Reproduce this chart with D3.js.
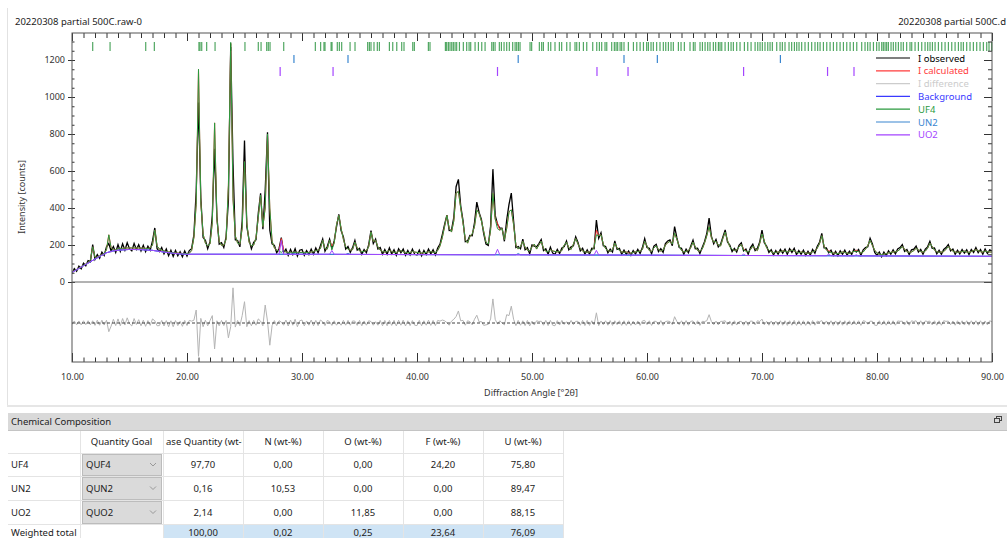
<!DOCTYPE html>
<html>
<head>
<meta charset="utf-8">
<script src="https://cdn.jsdelivr.net/npm/d3@7"></script>
<style>
body { margin: 0; background: #fff; }
svg { display: block; font-family: "Segoe UI", "Noto Sans", sans-serif; }
</style>
</head>
<body>
<svg id="chart-svg" width="1007" height="538"></svg>
<script>
// ---- pattern data, 10 to 90 deg 2theta, step 0.2 ----
const angleStart = 10, angleStep = 0.2;

const calcCounts = [
  54, 61, 68, 75, 82, 90, 97, 104, 120, 190,
  135, 133, 140, 147, 155, 175, 255, 185, 172, 174,
  180, 181, 182, 183, 184, 184, 184, 184, 184, 184,
  183, 183, 182, 181, 185, 200, 280, 195, 178, 172,
  168, 165, 162, 160, 158, 157, 156, 155, 154, 154,
  154, 156, 170, 240, 420, 1150, 430, 260, 210, 195,
  205, 320, 860, 340, 220, 198, 200, 230, 520, 1290,
  450, 250, 210, 205, 290, 650, 320, 215, 195, 200,
  240, 350, 470, 300, 400, 800, 400, 220, 185, 172,
  168, 235, 172, 162, 160, 160, 160, 160, 160, 160,
  160, 160, 159, 160, 162, 165, 170, 172, 180, 225,
  180, 178, 225, 195, 210, 310, 360, 290, 230, 190,
  178, 172, 175, 215, 185, 168, 165, 165, 170, 190,
  270, 220, 225, 190, 172, 165, 162, 165, 170, 165,
  160, 160, 165, 170, 163, 160, 158, 160, 165, 162,
  160, 158, 157, 158, 160, 163, 165, 160, 160, 170,
  195, 240, 300, 360, 290, 270, 330, 480, 490, 400,
  320, 230, 210, 245, 260, 300, 390, 370, 330, 275,
  215, 205, 280, 480, 340, 318, 280, 290, 230, 290,
  380, 390, 310, 200, 178, 192, 220, 188, 172, 168,
  190, 205, 178, 200, 220, 182, 166, 164, 174, 168,
  165, 163, 165, 170, 200, 215, 185, 176, 205, 235,
  205, 180, 168, 164, 160, 163, 170, 190, 280, 250,
  255, 205, 180, 170, 165, 175, 210, 185, 170, 163,
  160, 163, 156, 157, 160, 163, 165, 167, 175, 220,
  195, 170, 165, 185, 195, 175, 167, 173, 200, 212,
  220, 205, 265, 230, 195, 170, 163, 165, 170, 185,
  215, 190, 170, 167, 177, 210, 250, 300, 240, 215,
  220, 200, 195, 235, 270, 225, 190, 177, 170, 173,
  190, 203, 180, 167, 163, 175, 195, 180, 170, 208,
  260, 222, 185, 172, 163, 158, 160, 162, 164, 168,
  166, 163, 168, 172, 168, 161, 158, 162, 160, 157,
  155, 158, 163, 168, 182, 207, 250, 193, 173, 170,
  160, 157, 155, 154, 157, 162, 160, 157, 154, 160,
  166, 172, 164, 157, 162, 177, 197, 226, 197, 172,
  157, 150, 147, 150, 154, 157, 160, 162, 164, 167,
  177, 192, 177, 164, 160, 162, 170, 182, 174, 164,
  162, 167, 182, 210, 192, 172, 164, 160, 162, 164,
  177, 192, 177, 167, 162, 160, 162, 164, 167, 162,
  160, 164, 170, 174, 170, 164, 162, 167, 164, 162,
  162
];

const obsCounts = [
  46, 72, 58, 86, 72, 102, 88, 116, 110, 202,
  122, 148, 128, 162, 144, 190, 208, 168, 192, 160,
  202, 166, 206, 172, 212, 180, 168, 208, 176, 202,
  168, 198, 164, 194, 172, 222, 292, 180, 164, 186,
  152, 178, 142, 172, 138, 170, 142, 164, 136, 168,
  140, 170, 180, 255, 490, 970, 455, 240, 225, 180,
  218, 360, 720, 352, 205, 212, 186, 244, 440, 1270,
  640, 228, 224, 190, 330, 765, 300, 228, 180, 214,
  228, 372, 480, 285, 497, 810, 280, 206, 198, 158,
  180, 240, 160, 178, 144, 176, 148, 180, 140, 172,
  176, 144, 170, 148, 178, 150, 184, 158, 196, 232,
  166, 192, 232, 182, 222, 298, 366, 278, 244, 178,
  192, 160, 186, 225, 172, 182, 150, 176, 158, 202,
  278, 208, 232, 178, 186, 150, 176, 150, 184, 152,
  174, 144, 180, 158, 178, 144, 170, 146, 178, 150,
  146, 172, 142, 170, 148, 178, 152, 174, 146, 184,
  205, 256, 312, 362, 278, 280, 350, 515, 555, 412,
  334, 218, 222, 252, 250, 320, 432, 376, 338, 262,
  205, 198, 302, 610, 360, 312, 292, 290, 220, 335,
  420, 481, 330, 186, 192, 180, 232, 174, 186, 152,
  200, 194, 190, 208, 230, 170, 180, 150, 188, 156,
  150, 176, 154, 184, 192, 222, 174, 190, 196, 244,
  214, 168, 182, 150, 174, 150, 182, 180, 335, 236,
  266, 196, 192, 158, 178, 162, 222, 176, 182, 150,
  172, 150, 168, 144, 170, 152, 176, 154, 186, 234,
  186, 182, 152, 194, 204, 164, 180, 160, 208, 222,
  228, 196, 299, 238, 186, 182, 150, 178, 158, 194,
  226, 180, 182, 154, 186, 218, 262, 345, 248, 206,
  230, 190, 204, 244, 282, 216, 200, 164, 182, 162,
  198, 212, 168, 178, 150, 186, 204, 170, 182, 216,
  281, 212, 194, 160, 174, 146, 170, 150, 176, 156,
  178, 150, 180, 160, 182, 148, 170, 150, 172, 144,
  166, 146, 176, 156, 192, 214, 263, 184, 184, 158,
  172, 144, 166, 142, 169, 150, 172, 145, 166, 149,
  178, 162, 176, 144, 174, 186, 190, 236, 206, 160,
  144, 162, 136, 162, 142, 169, 150, 174, 152, 178,
  186, 202, 166, 176, 148, 174, 178, 194, 162, 176,
  150, 178, 190, 220, 182, 184, 152, 172, 150, 176,
  186, 202, 168, 178, 150, 172, 152, 176, 156, 174,
  148, 176, 160, 186, 158, 176, 150, 178, 154, 174,
  168
];

// UO2 share of the calculated pattern at its peaks
const uo2Share = [[28.2, 75], [32.6, 20], [47.0, 30], [55.6, 25], [58.4, 6], [68.4, 7], [75.8, 8], [78.2, 6]];

const backgroundCurve = [[10, 52], [11, 88], [12, 124], [13, 158], [13.5, 167], [14, 172], [15, 176], [16, 175], [17, 171],
  [18, 162], [19, 154], [20, 150], [30, 150], [40, 148], [50, 147], [60, 145], [70, 143], [80, 141], [90, 139]];

const uo2Curve = [[10, 52], [11, 88], [12, 124], [13, 158], [13.5, 167], [14, 172], [15, 176], [16, 175], [17, 171],
  [18, 162], [19, 154], [20, 150], [28, 150], [28.2, 225], [28.4, 150], [32.4, 150], [32.6, 170], [32.8, 150],
  [40, 148], [46.8, 147], [47, 177], [47.2, 147], [50, 147], [55.4, 146], [55.6, 171], [55.8, 146], [58.2, 145],
  [58.4, 151], [58.6, 145], [60, 145], [68.2, 143], [68.4, 150], [68.6, 143], [70, 143], [75.6, 142], [75.8, 150],
  [76, 142], [78, 141], [78.2, 147], [78.4, 141], [80, 141], [90, 139]];

const un2Curve = [[10, 52], [11, 88], [12, 124], [13, 158], [13.5, 167], [14, 172], [15, 176], [16, 175], [17, 171],
  [18, 162], [19, 154], [20, 150], [29.1, 150], [29.3, 156], [29.5, 150], [33.8, 149], [34, 155], [34.2, 149],
  [40, 148], [48.6, 147], [48.8, 154], [49, 147], [50, 147], [57.8, 145], [58, 150], [58.2, 145], [60, 145],
  [70, 143], [80, 141], [90, 139]];

// reflection markers (deg 2theta)
const uf4Markers = [11.80, 13.31, 16.41, 17.16, 21.04, 21.13, 21.28, 21.71, 22.44, 23.80, 25.04, 26.20, 26.44, 26.93,
  27.07, 27.22, 28.41, 31.16, 31.62, 31.91, 32.00, 32.53, 32.61, 33.07, 33.25, 33.45, 34.18, 34.61, 35.71, 35.86,
  36.00, 36.26, 36.55, 36.73, 37.60, 37.89, 38.24, 38.67, 38.87, 39.63, 39.77, 40.99, 41.13, 42.47, 42.58, 42.73,
  42.87, 43.02, 43.16, 43.31, 43.45, 43.69, 44.03, 44.32, 44.53, 44.67, 45.05, 45.34, 45.63, 45.92, 46.50, 46.64,
  46.79, 47.16, 47.34, 47.57, 47.80, 48.03, 48.32, 48.53, 48.67, 48.82, 48.96, 49.83, 49.97, 50.64, 50.84, 50.99,
  51.42, 51.63, 52.00, 52.38, 52.58, 53.02, 53.31, 53.74, 53.89, 54.12, 54.47, 54.76, 55.28, 55.63, 55.86, 56.06,
  56.35, 56.50, 56.93, 57.16, 57.31, 57.45, 57.66, 57.80, 58.00, 58.38, 58.82, 59.11, 59.40, 59.69, 59.97,
  60.12, 60.35, 60.55, 60.84, 61.13, 61.42, 61.63, 61.86, 62.09, 62.29, 62.73, 62.96, 63.25, 63.74, 64.03, 64.18,
  64.61, 64.82, 65.05, 65.28, 65.48, 65.77, 65.97, 66.21, 66.35, 66.50, 66.79, 67.08, 67.31, 67.51, 67.80, 68.09,
  68.47, 68.76, 69.05, 69.40, 69.63, 69.83, 70.03, 70.26, 70.50, 70.70, 70.90, 71.28, 71.57, 71.77, 72.00, 72.35,
  72.58, 72.82, 73.02, 73.22, 73.45, 73.74, 74.03, 74.32, 74.61, 74.84, 75.05, 75.34, 75.63, 75.92, 76.21, 76.50,
  76.79, 77.08, 77.37, 77.66, 77.95, 78.24, 78.67, 78.96, 79.19, 79.40, 79.69, 79.97, 80.18, 80.41, 80.55, 80.70,
  80.84, 80.99, 81.22, 81.42, 81.63, 81.86, 82.09, 82.29, 82.58, 82.87, 83.02, 83.31, 83.60, 83.89, 84.18, 84.41,
  84.61, 84.82, 85.05, 85.34, 85.63, 85.92, 86.21, 86.50, 86.79, 87.08, 87.31, 87.51, 87.80, 88.09, 88.38, 88.67,
  88.96, 89.25, 89.54, 89.74, 89.97];
const un2Markers = [29.3, 34.0, 48.8, 58.0, 60.9, 71.6];
const uo2Markers = [28.1, 32.7, 47.0, 55.65, 58.35, 68.4, 75.7, 78.0];

const legendLabels = ["I observed", "I calculated", "I difference", "Background", "UF4", "UN2", "UO2"];
const legendColors = ["#000000", "#ff3b3b", "#cccccc", "#3a3aff", "#2a9a3e", "#3a86d0", "#a445ff"];

const yTickValues = [0, 200, 400, 600, 800, 1000, 1200];
const xTickValues = [10, 20, 30, 40, 50, 60, 70, 80, 90];

// ---- table data ----
const phaseNames = ["UF4", "UN2", "UO2"];
const quantityGoals = ["QUF4", "QUN2", "QUO2"];
const tableHeaders = ["Quantity Goal", "ase Quantity (wt-%)", "N (wt-%)", "O (wt-%)", "F (wt-%)", "U (wt-%)"];
const phaseValues = [
  ["97,70", "0,00", "0,00", "24,20", "75,80"],
  ["0,16", "10,53", "0,00", "0,00", "89,47"],
  ["2,14", "0,00", "11,85", "0,00", "88,15"]
];
const weightedTotal = ["100,00", "0,02", "0,25", "23,64", "76,09"];

// ---------------------------------------------------------------
const svg = d3.select("#chart-svg");
const plotLeft = 72, plotRight = 992, plotTop = 33, zeroY = 282, plotBottom = 362;

const x = d3.scaleLinear().domain([10, 90]).range([plotLeft, plotRight]);
const y = d3.scaleLinear().domain([0, 1346]).range([zeroY, plotTop]);
const yDiff = d3.scaleLinear().domain([-221, 221]).range([363.9, 282.1]);

const angles = obsCounts.map(function(d, i) { return +(angleStart + i * angleStep).toFixed(1); });
const uo2Lookup = new Map(uo2Share.map(function(d) { return [d[0].toFixed(1), d[1]]; }));

const obsPts = angles.map(function(a, i) { return [a, obsCounts[i]]; });
const calcPts = angles.map(function(a, i) { return [a, calcCounts[i]]; });
const uf4Pts = angles.map(function(a, i) { return [a, calcCounts[i] - (uo2Lookup.get(a.toFixed(1)) || 0)]; });
const diffPts = angles.map(function(a, i) { return [a, obsCounts[i] - calcCounts[i]]; });

// outer frame bits
svg.append("line").attr("x1", 7.5).attr("x2", 7.5).attr("y1", 8).attr("y2", 405).attr("stroke", "#e2e2e2");
svg.append("rect").attr("x", 7).attr("y", 405).attr("width", 1000).attr("height", 2).attr("fill", "#e6e6e6");

svg.append("text").attr("x", 15).attr("y", 25).attr("font-size", 9.5).attr("fill", "#222")
   .text("20220308 partial 500C.raw-0");
svg.append("text").attr("x", 1006).attr("y", 25).attr("font-size", 9.5).attr("fill", "#222")
   .attr("text-anchor", "end").text("20220308 partial 500C.d");

const defs = svg.append("defs");
defs.append("clipPath").attr("id", "clip-main").append("rect")
    .attr("x", plotLeft).attr("y", plotTop).attr("width", plotRight - plotLeft).attr("height", zeroY - plotTop);
defs.append("clipPath").attr("id", "clip-diff").append("rect")
    .attr("x", plotLeft).attr("y", zeroY).attr("width", plotRight - plotLeft).attr("height", plotBottom - zeroY);

const line = d3.line().x(function(d) { return x(d[0]); }).y(function(d) { return y(d[1]); });
const diffLine = d3.line().x(function(d) { return x(d[0]); }).y(function(d) { return yDiff(d[1]); });

// difference panel
const gDiff = svg.append("g").attr("clip-path", "url(#clip-diff)");
gDiff.append("path").datum(diffPts).attr("fill", "none").attr("stroke", "#b4b4b4").attr("stroke-width", 1)
     .attr("d", diffLine);
gDiff.append("line").attr("x1", plotLeft).attr("x2", plotRight).attr("y1", yDiff(0)).attr("y2", yDiff(0))
     .attr("stroke", "#111").attr("stroke-dasharray", "3,2").attr("stroke-width", 0.8);

// main panel curves
const gMain = svg.append("g").attr("clip-path", "url(#clip-main)");
gMain.append("path").datum(obsPts).attr("fill", "none").attr("stroke", "#000").attr("stroke-width", 1.3).attr("d", line);
gMain.append("path").datum(calcPts).attr("fill", "none").attr("stroke", legendColors[1]).attr("stroke-width", 1).attr("d", line);
gMain.append("path").datum(backgroundCurve).attr("fill", "none").attr("stroke", legendColors[3]).attr("stroke-width", 1).attr("d", line);
gMain.append("path").datum(un2Curve).attr("fill", "none").attr("stroke", legendColors[5]).attr("stroke-width", 1).attr("d", line);
gMain.append("path").datum(uf4Pts).attr("fill", "none").attr("stroke", legendColors[4]).attr("stroke-width", 1).attr("d", line);
gMain.append("path").datum(uo2Curve).attr("fill", "none").attr("stroke", legendColors[6]).attr("stroke-width", 1).attr("d", line);

// reflection markers
function drawMarkers(list, y1, y2, color, opacity) {
  svg.append("g").selectAll("line").data(list).enter().append("line")
     .attr("x1", function(d) { return x(d); }).attr("x2", function(d) { return x(d); })
     .attr("y1", y1).attr("y2", y2)
     .attr("stroke", color).attr("stroke-width", 1.2).attr("stroke-opacity", opacity);
}
drawMarkers(uf4Markers, 42, 51, "#178a2e", 0.75);
drawMarkers(un2Markers, 55, 63, "#3a86d0", 1);
drawMarkers(uo2Markers, 67, 76, "#a445ff", 1);

// legend
const legend = svg.append("g");
legendLabels.forEach(function(label, i) {
  const ly = 58 + i * 12.8;
  legend.append("line").attr("x1", 876).attr("x2", 910).attr("y1", ly).attr("y2", ly)
        .attr("stroke", legendColors[i]).attr("stroke-width", 1.2);
  legend.append("text").attr("x", 918).attr("y", ly + 3.5).attr("font-size", 9.5)
        .attr("fill", legendColors[i]).text(label);
});

// axes
function styleAxis(g) {
  g.select(".domain").remove();
  g.selectAll("line").attr("stroke", "#333");
  g.selectAll("text").attr("font-size", 9).attr("fill", "#333").attr("font-family", "Segoe UI, Noto Sans, sans-serif");
}
const minorX = d3.range(11, 90).filter(function(v) { return v % 10 !== 0; });
const minorY = d3.range(50, 1346, 50).filter(function(v) { return v % 200 !== 0; });

svg.append("g").attr("transform", "translate(0," + plotBottom + ")")
   .call(d3.axisBottom(x).tickValues(xTickValues).tickSize(-9).tickPadding(12).tickFormat(d3.format(".2f")))
   .call(styleAxis);
svg.append("g").attr("transform", "translate(0," + plotBottom + ")")
   .call(d3.axisBottom(x).tickValues(minorX).tickSize(-4.5).tickFormat(""))
   .call(styleAxis);
svg.append("g").attr("transform", "translate(0," + plotTop + ")")
   .call(d3.axisTop(x).tickValues(xTickValues).tickSize(-8).tickFormat(""))
   .call(styleAxis);
svg.append("g").attr("transform", "translate(0," + plotTop + ")")
   .call(d3.axisTop(x).tickValues(minorX).tickSize(-5).tickFormat(""))
   .call(styleAxis);

svg.append("g").attr("transform", "translate(" + plotLeft + ",0)")
   .call(d3.axisLeft(y).tickValues(yTickValues).tickSize(4).tickPadding(3).tickFormat(d3.format("d")))
   .call(styleAxis);
svg.append("g").attr("transform", "translate(" + plotLeft + ",0)")
   .call(d3.axisLeft(y).tickValues(yTickValues).tickSize(-3).tickFormat(""))
   .call(styleAxis);
svg.append("g").attr("transform", "translate(" + plotLeft + ",0)")
   .call(d3.axisLeft(y).tickValues(minorY).tickSize(-2.5).tickFormat(""))
   .call(styleAxis);
svg.append("g").attr("transform", "translate(" + plotRight + ",0)")
   .call(d3.axisRight(y).tickValues(yTickValues).tickSize(-8).tickFormat(""))
   .call(styleAxis);
svg.append("g").attr("transform", "translate(" + plotRight + ",0)")
   .call(d3.axisRight(y).tickValues(minorY).tickSize(-4).tickFormat(""))
   .call(styleAxis);

// frame and zero line
svg.append("rect").attr("x", plotLeft).attr("y", plotTop).attr("width", plotRight - plotLeft)
   .attr("height", plotBottom - plotTop).attr("fill", "none").attr("stroke", "#555").attr("stroke-width", 1);
svg.append("line").attr("x1", plotLeft).attr("x2", plotRight).attr("y1", zeroY).attr("y2", zeroY)
   .attr("stroke", "#666").attr("stroke-width", 1);

svg.append("text").attr("transform", "translate(25,197) rotate(-90)").attr("text-anchor", "middle")
   .attr("font-size", 9).attr("fill", "#333").text("Intensity [counts]");
svg.append("text").attr("x", 531).attr("y", 396).attr("text-anchor", "middle")
   .attr("font-size", 9).attr("fill", "#333").text("Diffraction Angle [°2θ]");

// ---- Chemical Composition panel ----
svg.append("rect").attr("x", 8).attr("y", 413).attr("width", 999).attr("height", 17).attr("fill", "#d9d9d9");
svg.append("line").attr("x1", 8).attr("x2", 1007).attr("y1", 430.5).attr("y2", 430.5).attr("stroke", "#c4c4c4");
svg.append("text").attr("x", 11).attr("y", 425).attr("font-size", 9.5).attr("fill", "#222").text("Chemical Composition");
svg.append("rect").attr("x", 996.5).attr("y", 416.5).attr("width", 5).attr("height", 4).attr("fill", "#d9d9d9").attr("stroke", "#444");
svg.append("rect").attr("x", 994.5).attr("y", 418.5).attr("width", 5).attr("height", 4).attr("fill", "#d9d9d9").attr("stroke", "#444");

const colEdges = [8, 80, 163, 243, 323, 403, 483, 563];
const rowEdges = [431, 453, 476, 500, 524, 548];
const table = svg.append("g").attr("font-size", 9.5).attr("fill", "#222");

table.append("rect").attr("x", colEdges[2]).attr("y", rowEdges[4]).attr("width", colEdges[7] - colEdges[2])
     .attr("height", 14).attr("fill", "#cfe4f5");

rowEdges.slice(1, 5).forEach(function(ry) {
  table.append("line").attr("x1", 8).attr("x2", colEdges[7]).attr("y1", ry + 0.5).attr("y2", ry + 0.5).attr("stroke", "#e4e4e4");
});
colEdges.slice(1).forEach(function(cx) {
  table.append("line").attr("x1", cx + 0.5).attr("x2", cx + 0.5).attr("y1", 431).attr("y2", 538).attr("stroke", "#e4e4e4");
});

defs.append("clipPath").attr("id", "clip-col").append("rect")
    .attr("x", colEdges[2] + 1).attr("y", 431).attr("width", colEdges[3] - colEdges[2] - 2).attr("height", 22);

tableHeaders.forEach(function(h, i) {
  const t = table.append("text").attr("y", 445).text(h);
  if (i === 1) {
    t.attr("x", colEdges[2] + 3).attr("clip-path", "url(#clip-col)");
  } else {
    t.attr("x", (colEdges[i + 1] + colEdges[i + 2]) / 2).attr("text-anchor", "middle");
  }
});

phaseNames.forEach(function(name, r) {
  const top = rowEdges[r + 1], bottom = rowEdges[r + 2];
  const mid = (top + bottom) / 2;
  table.append("text").attr("x", 11).attr("y", mid + 3.5).text(name);
  table.append("rect").attr("x", 82.5).attr("y", top + 1.5).attr("width", 79).attr("height", bottom - top - 2)
       .attr("fill", "#dadada").attr("stroke", "#bcbcbc");
  table.append("text").attr("x", 86).attr("y", mid + 3.5).text(quantityGoals[r]);
  table.append("path").attr("d", "M" + 150 + "," + (mid - 1.5) + "l3,3l3,-3")
       .attr("fill", "none").attr("stroke", "#888").attr("stroke-width", 0.8);
  phaseValues[r].forEach(function(v, c) {
    table.append("text").attr("x", (colEdges[c + 2] + colEdges[c + 3]) / 2).attr("y", mid + 3.5)
         .attr("text-anchor", "middle").text(v);
  });
});

table.append("text").attr("x", 11).attr("y", 536).text("Weighted total");
weightedTotal.forEach(function(v, c) {
  table.append("text").attr("x", (colEdges[c + 2] + colEdges[c + 3]) / 2).attr("y", 536)
       .attr("text-anchor", "middle").text(v);
});
</script>
</body>
</html>
